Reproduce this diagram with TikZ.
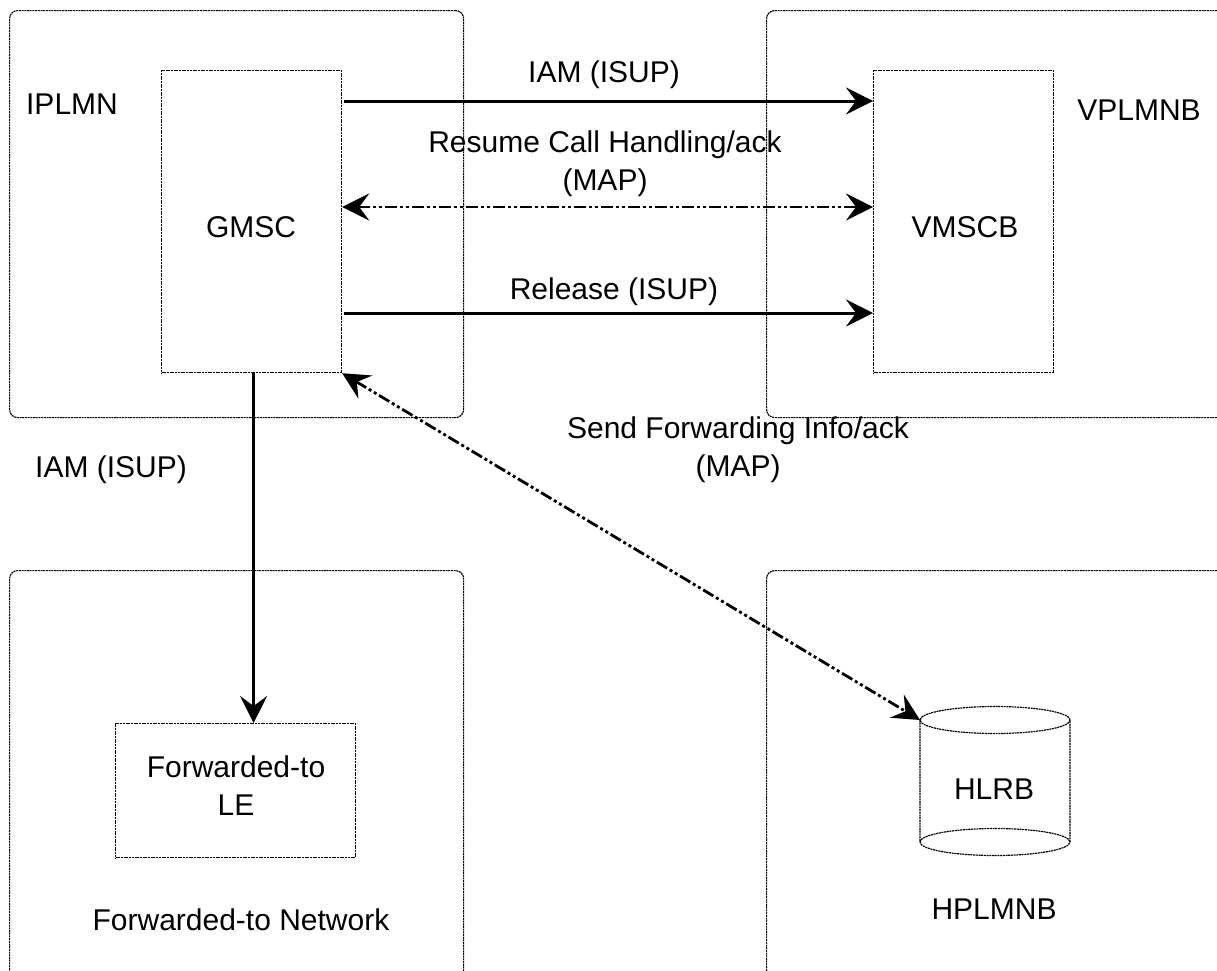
\documentclass[tikz,border=0pt]{standalone}
\usepackage{fontspec}
\setmainfont{Liberation Sans}
\usetikzlibrary{arrows.meta}
\begin{document}
\begin{tikzpicture}[x=1pt,y=-1pt,
  dotb/.style={draw, line width=1.2pt, dash pattern=on 2pt off 0.7pt},
  region/.style={dotb, rounded corners=8pt, anchor=north west, inner sep=0pt},
  boxn/.style={dotb, anchor=north west, inner sep=0pt},
  lbl/.style={font=\fontsize{30}{38}\selectfont, align=center, inner sep=0pt},
  tip/.style={-{Stealth[length=27pt,width=27pt,inset=10pt]}},
  tips/.style={{Stealth[length=27pt,width=27pt,inset=10pt]}-{Stealth[length=27pt,width=27pt,inset=10pt]}},
  sig/.style={line width=3pt},
  mapline/.style={line width=2.8pt, dash pattern=on 12pt off 3pt on 3pt off 3pt on 3pt off 3pt}
]
\clip (0,0) rectangle (1217,970);
\fill[white] (0,0) rectangle (1217,970);
% regions
\node[region, minimum width=454pt, minimum height=407pt] (iplmn) at (9,10) {};
\node[region, minimum width=480pt, minimum height=407pt] (vplmn) at (766,10) {};
\node[region, minimum width=454pt, minimum height=440pt] (fwdnet) at (9,570) {};
\node[region, minimum width=480pt, minimum height=440pt] (hplmn) at (766,570) {};
% boxes
\node[boxn, minimum width=180pt, minimum height=302pt] (gmsc) at (161,70) {};
\node[boxn, minimum width=180pt, minimum height=302pt] (vmsc) at (873,70) {};
\node[boxn, minimum width=240pt, minimum height=134pt] (le) at (115,723) {};
% cylinder HLRB
\draw[dotb, fill=white] (920,720) -- (920,842) arc[start angle=180, end angle=360, x radius=75pt, y radius=13.5pt] -- (1070,720);
\draw[dotb] (995,720) ellipse [x radius=75pt, y radius=13.5pt];
\draw[dotb] (920,842) arc[start angle=180, end angle=0, x radius=75pt, y radius=13.5pt];
\coordinate (hlrb) at (920,720);
% texts
\node[lbl] (tiplmn) at (72,104) {IPLMN};
\node[lbl] (tvplmn) at (1139,110) {VPLMNB};
\node[lbl] (tgmsc) at (251,227) {GMSC};
\node[lbl] (tvmsc) at (965,227) {VMSCB};
\node[lbl] (tiam1) at (604,75) {IAM (ISUP)};
\node[lbl] (tres) at (605,164) {Resume Call Handling/ack\\(MAP)};
\node[lbl] (trel) at (614,292) {Release (ISUP)};
\node[lbl] (tiam2) at (111,470) {IAM (ISUP)};
\node[lbl] (tsfi) at (738,450) {Send Forwarding Info/ack\\(MAP)};
\node[lbl] (tle) at (236,786) {Forwarded-to\\LE};
\node[lbl] (tfwd) at (241,920) {Forwarded-to Network};
\node[lbl] (thlrb) at (994,789) {HLRB};
\node[lbl] (thplmn) at (994,909) {HPLMNB};
% connectors
\draw[sig, tip] ([yshift=-31pt, xshift=2pt]gmsc.north east) -- ([yshift=-31pt]vmsc.north west);
\draw[mapline, tips] ([yshift=-137pt]gmsc.north east) -- ([yshift=-137pt]vmsc.north west);
\draw[sig, tip] ([yshift=-243pt, xshift=2pt]gmsc.north east) -- ([yshift=-243pt]vmsc.north west);
\draw[sig, tip] ([xshift=2pt]gmsc.south) -- ([xshift=2pt]gmsc.south |- le.north);
\draw[mapline, tips] (gmsc.south east) -- (hlrb);
\end{tikzpicture}
\end{document}
